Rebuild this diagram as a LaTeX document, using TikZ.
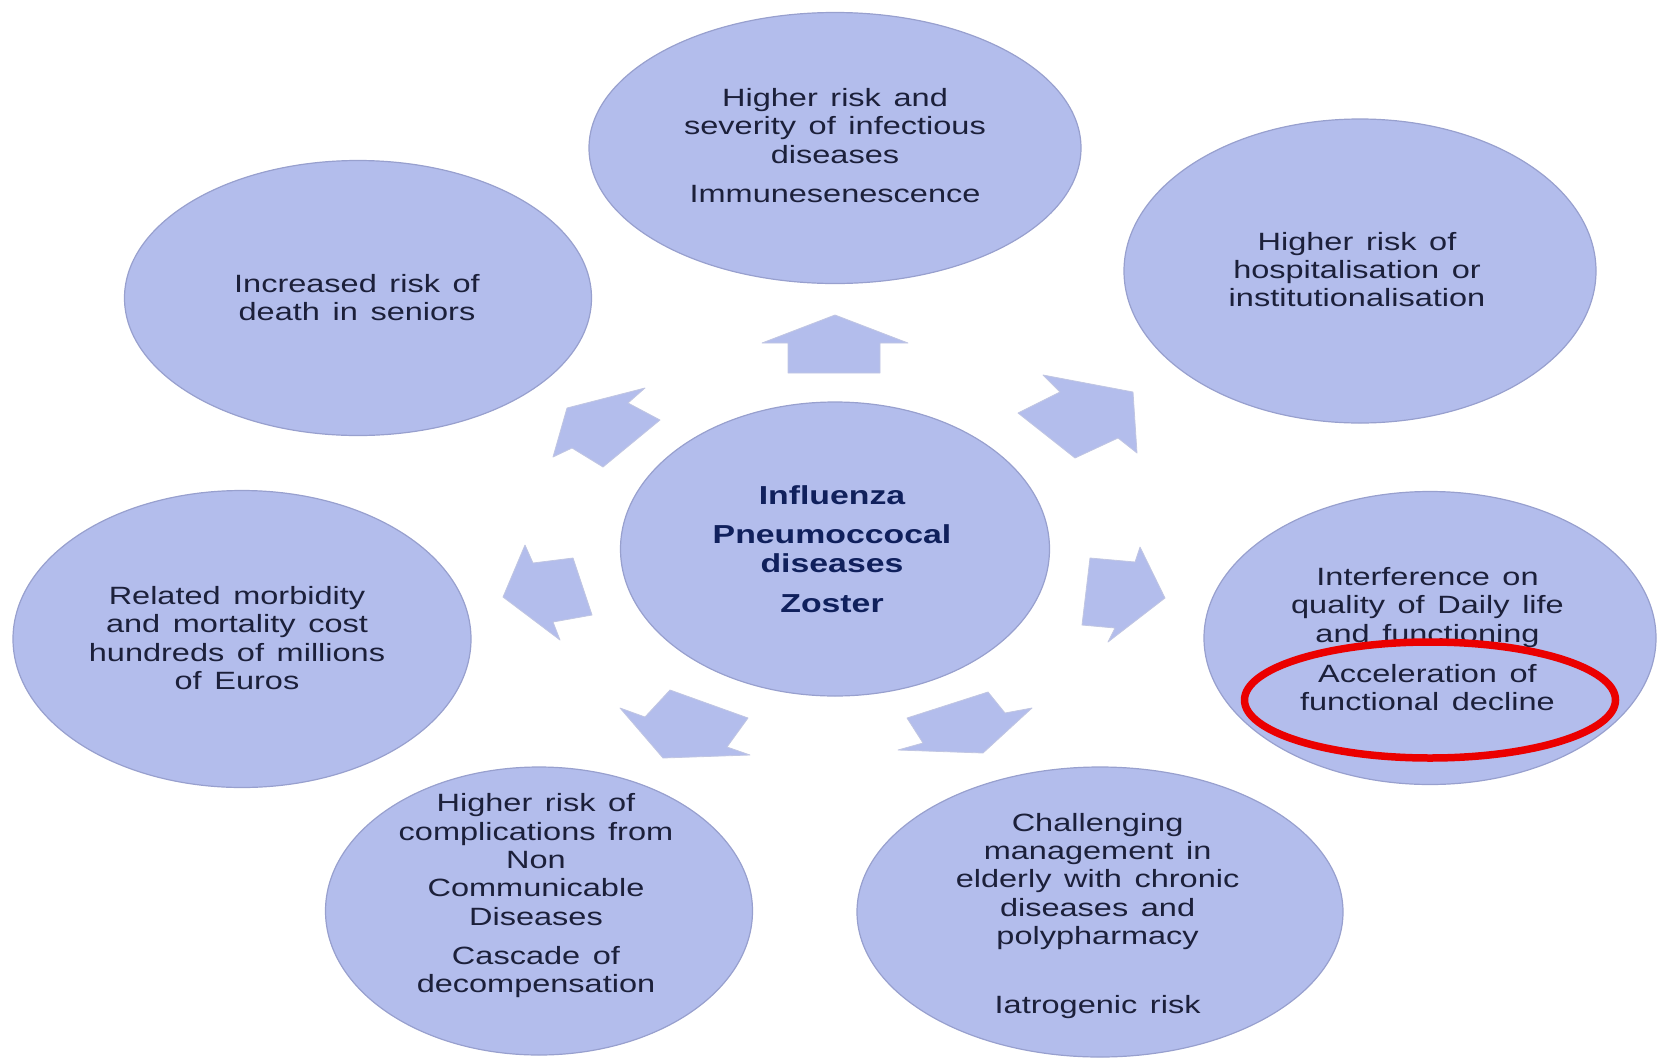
\documentclass[tikz,border=0pt]{standalone}
\usepackage{fontspec}
\setmainfont{Liberation Sans}
\newfontfamily\widesans[FakeStretch=1.3,WordSpace=1.4]{Liberation Sans}
\usetikzlibrary{shapes.geometric}
\definecolor{ovalfill}{RGB}{179,189,236}
\definecolor{ovaledge}{RGB}{152,160,206}
\definecolor{bodytext}{RGB}{28,32,58}
\definecolor{hubtext}{RGB}{16,32,92}
\definecolor{ringred}{RGB}{235,0,0}
\begin{document}
\begin{tikzpicture}[x=1pt,y=-1pt,
  oval/.style={ellipse, fill=ovalfill, draw=ovaledge, line width=1.2pt, inner sep=0pt},
  txt/.style={align=center, text=bodytext, inner sep=0pt,
    font=\widesans\fontsize{25}{28.3}\selectfont},
  hub/.style={align=center, text=hubtext, inner sep=0pt,
    font=\widesans\bfseries\fontsize{26}{28.5}\selectfont},
  blockarrow/.style={fill=ovalfill, draw=ovaledge!60!white, line width=0.8pt, line join=round}]
\useasboundingbox (0,0) rectangle (1658,1058);

% ovals
\node[oval, minimum width=492pt, minimum height=271pt] (top)   at (835,148) {};
\node[oval, minimum width=467pt, minimum height=275pt] (tl)    at (358,298) {};
\node[oval, minimum width=472pt, minimum height=304pt] (tr)    at (1360,271) {};
\node[oval, minimum width=429pt, minimum height=294pt] (hubov) at (835,549) {};
\node[oval, minimum width=458pt, minimum height=297pt] (lt)    at (242,639) {};
\node[oval, minimum width=452pt, minimum height=293pt] (rt)    at (1430,638) {};
\node[oval, minimum width=427pt, minimum height=288pt] (bl)    at (539,911) {};
\node[oval, minimum width=486pt, minimum height=290pt] (br)    at (1100,912) {};

% radiating block arrows
\path[blockarrow] (835,315) -- (908,343) -- (880,343) -- (880,373) -- (788,373) -- (788,343) -- (762,343) -- cycle;
\path[blockarrow] (1133,392) -- (1137,453) -- (1118,438) -- (1075,458) -- (1018,413) -- (1060,392) -- (1043,375) -- cycle;
\path[blockarrow] (1165,598) -- (1108,642) -- (1115,628) -- (1082,625) -- (1090,558) -- (1135,562) -- (1140,547) -- cycle;
\path[blockarrow] (983,753) -- (898,750) -- (923,743) -- (907,718) -- (988,692) -- (1005,713) -- (1032,708) -- cycle;
\path[blockarrow] (663,758) -- (620,708) -- (645,717) -- (670,690) -- (748,718) -- (727,747) -- (750,755) -- cycle;
\path[blockarrow] (503,597) -- (525,545) -- (533,563) -- (573,558) -- (592,615) -- (553,622) -- (560,640) -- cycle;
\path[blockarrow] (567,408) -- (645,388) -- (628,403) -- (660,420) -- (603,467) -- (572,448) -- (553,457) -- cycle;

% texts
\node[txt] (topT) at (835,145.5) {Higher risk and\\severity of infectious\\diseases\\[10.8pt]Immunesenescence};
\node[txt] (tlT) at (357,297.8) {Increased risk of\\death in seniors};
\node[txt] (trT) at (1357,269.7) {Higher risk of\\hospitalisation or\\institutionalisation};
\node[txt] (ltT) at (237,638) {Related morbidity\\and mortality cost\\hundreds of millions\\of Euros};
\node[txt] (rtT) at (1427.5,639.2) {Interference on\\quality of Daily life\\and functioning\\[12.2pt]Acceleration of\\functional decline};
\node[txt] (blT) at (536,895.8) {Higher risk of\\complications from\\Non\\Communicable\\Diseases\\[10.8pt]Cascade of\\decompensation};
\node[txt] (brT) at (1097.6,915.9) {Challenging\\management in\\elderly with chronic\\diseases and\\polypharmacy\\[40.5pt]Iatrogenic risk};
\node[hub] (hubT) at (832,549) {Influenza\\[10.7pt]Pneumoccocal\\diseases\\[11.2pt]Zoster};

% highlight ring
\node[ellipse, draw=ringred, line width=7.5pt, inner sep=0pt, minimum width=371pt, minimum height=116pt] (ring) at (1430,700) {};
\end{tikzpicture}
\end{document}
